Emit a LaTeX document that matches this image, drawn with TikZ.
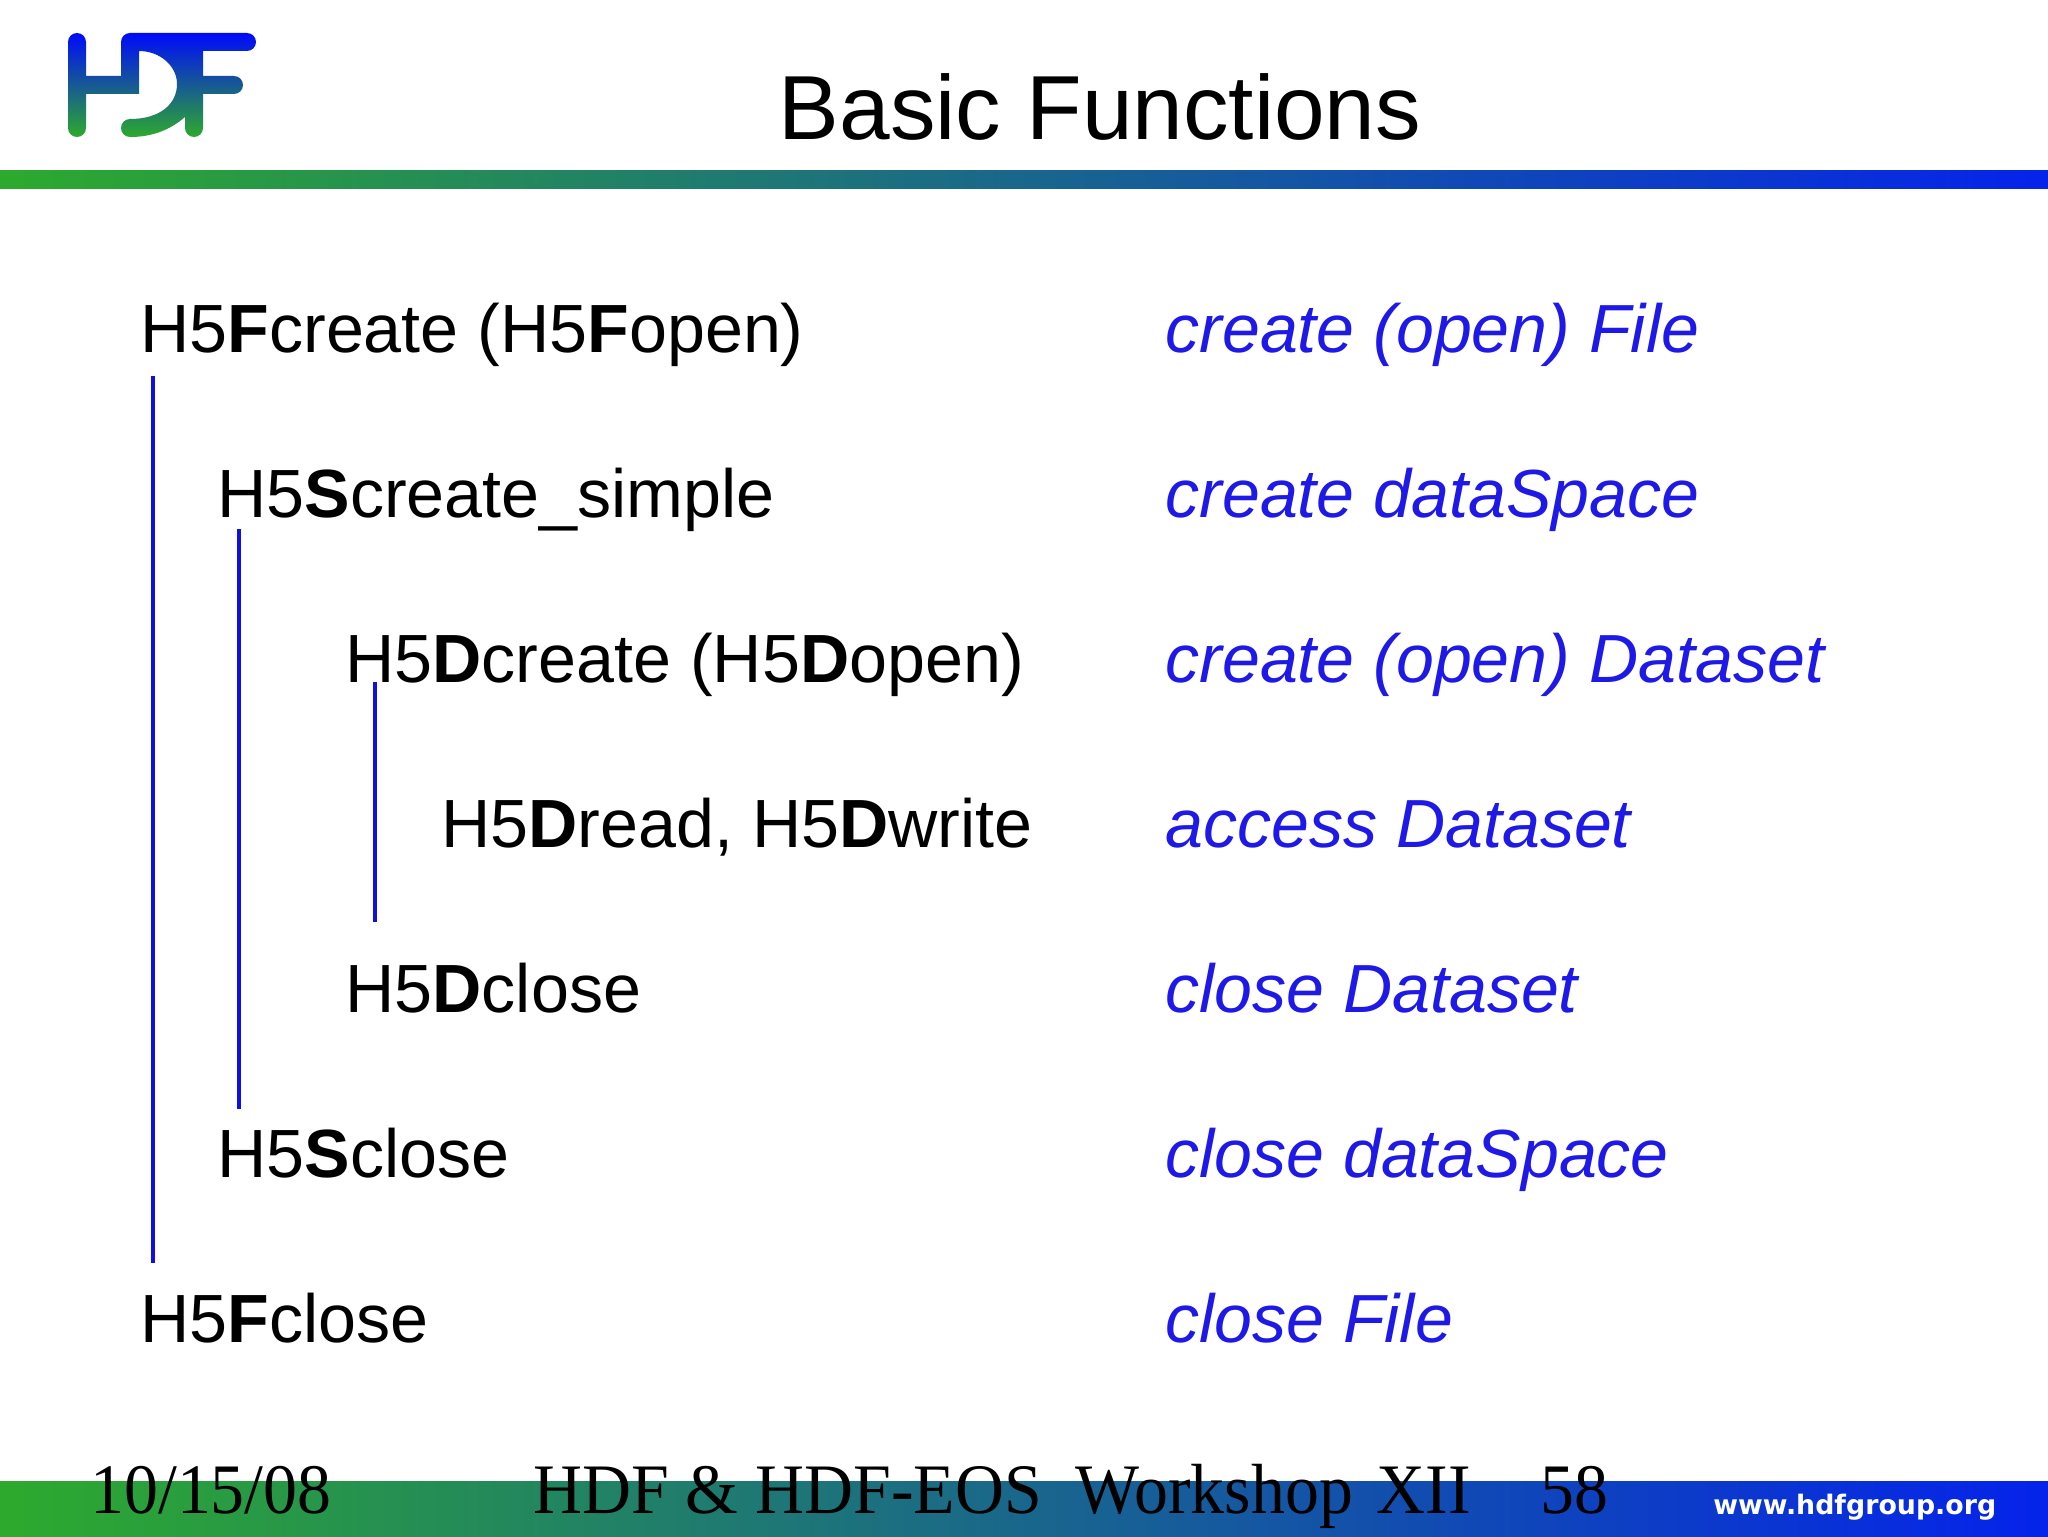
\documentclass[tikz,border=0pt]{standalone}
\usepackage{fontspec}
\setmainfont{Liberation Sans}
\newfontfamily\footfont[FakeStretch=0.955]{Liberation Serif}
\newfontfamily\urlfont{DejaVu Sans}
\definecolor{hdfgreen}{RGB}{45,170,45}
\definecolor{hdfteal}{RGB}{30,110,125}
\definecolor{hdfblue}{RGB}{5,35,235}
\definecolor{logoblue}{RGB}{0,10,250}
\definecolor{notecolor}{RGB}{30,25,230}
\definecolor{rulecolor}{RGB}{15,15,225}
\tikzset{
  fn/.style={anchor=base west, inner sep=0pt, font=\fontsize{34.1}{40}\selectfont},
  note/.style={fn, text=notecolor, font=\fontsize{34.05}{40}\selectfont\itshape},
  foot/.style={anchor=base west, inner sep=0pt, font=\footfont\fontsize{35.5}{40}\selectfont},
  span/.style={draw=rulecolor, line width=2.3pt}
}
\begin{document}
\begin{tikzpicture}[x=0.5pt,y=-0.5pt]
        \useasboundingbox (0,0) rectangle (2048,1536);
        \fill[white] (0,0) rectangle (2048,1536);

        % logo
        \shade[top color=logoblue, middle color=hdfteal, bottom color=hdfgreen]
          (68,42) arc[start angle=180,end angle=0,radius=4.5pt] -- (86,76) -- (121,76) -- (121,42)
          arc[start angle=180,end angle=90,radius=4.5pt] -- (247,33)
          arc[start angle=90,end angle=-90,radius=4.5pt] -- (203,51) -- (203,76) -- (234,76)
          arc[start angle=90,end angle=-90,radius=4.5pt] -- (203,94) -- (203,128)
          arc[start angle=0,end angle=-180,radius=4.5pt] -- (185,117)
          .. controls (170,130) and (152,137) .. (130,137)
          arc[start angle=-90,end angle=-270,radius=4.5pt]
          .. controls (160,119) and (177,104) .. (177,84)
          .. controls (177,66) and (160,51) .. (139,51) -- (139,94) -- (86,94) -- (86,128)
          arc[start angle=0,end angle=-180,radius=4.5pt] -- cycle;

        % bars
        \shade[left color=hdfgreen, middle color=hdfteal, right color=hdfblue] (0,170) rectangle (2048,188);
        \shade[left color=hdfgreen, middle color=hdfteal, right color=hdfblue] (0,1481) rectangle (2048,1536);

        \node[anchor=base, inner sep=0pt, font=\fontsize{45.5}{50}\selectfont] (title) at (1100,140) {Basic Functions};

        \node[fn] (fopen) at (140,352) {H5\textbf{F}create (H5\textbf{F}open)};
        \node[fn] (screate) at (217,517) {H5\textbf{S}create\_simple};
        \node[fn] (dopen) at (345,682) {H5\textbf{D}create (H5\textbf{D}open)};
        \node[fn] (dread) at (441,847) {H5\textbf{D}read, H5\textbf{D}write};
        \node[fn] (dclose) at (345,1012) {H5\textbf{D}close};
        \node[fn] (sclose) at (217,1177) {H5\textbf{S}close};
        \node[fn] (fclose) at (140,1342) {H5\textbf{F}close};

        \node[note] (nfopen) at (1165,352) {create (open) File};
        \node[note] (nscreate) at (1165,517) {create dataSpace};
        \node[note] (ndopen) at (1165,682) {create (open) Dataset};
        \node[note] (ndread) at (1165,847) {access Dataset};
        \node[note] (ndclose) at (1165,1012) {close Dataset};
        \node[note] (nsclose) at (1165,1177) {close dataSpace};
        \node[note] (nfclose) at (1165,1342) {close File};

        \coordinate (f1) at (153,376);
        \coordinate (f2) at (153,1263);
        \coordinate (s1) at (239,529);
        \coordinate (s2) at (239,1109);
        \coordinate (d1) at (375,682);
        \coordinate (d2) at (375,922);
        \draw[span] (f1) -- (f2);
        \draw[span] (s1) -- (s2);
        \draw[span] (d1) -- (d2);

        \node[foot] (date) at (90,1513) {10/15/08};
        \node[foot] (event) at (533,1513) {HDF \& HDF-EOS\ \ Workshop\hspace{0.1em} XII};
        \node[foot] (page) at (1540,1513) {58};
        \node[anchor=base west, inner sep=0pt, text=white, font=\urlfont\bfseries\fontsize{13.4}{15}\selectfont] (url) at (1713,1514) {www.hdfgroup.org};
      \end{tikzpicture}
\end{document}
